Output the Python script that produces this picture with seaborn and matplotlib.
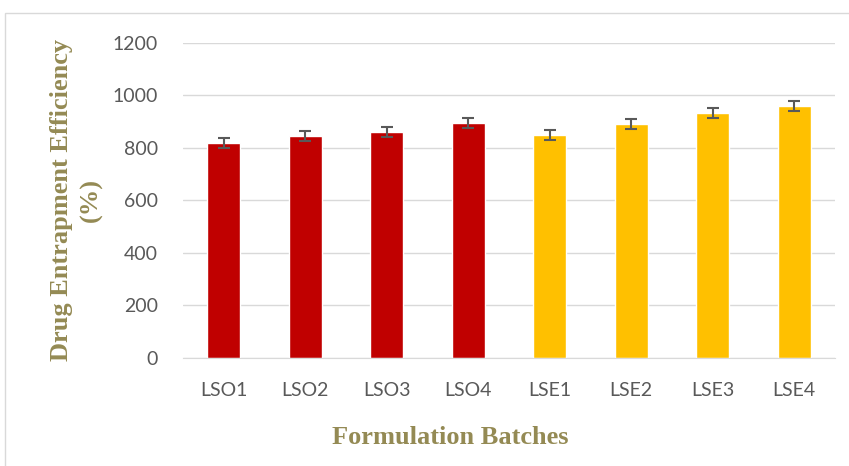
import pandas as pd
import seaborn as sns
import matplotlib.pyplot as plt
from matplotlib.patches import Rectangle

# data
batches = ['LSO1', 'LSO2', 'LSO3', 'LSO4', 'LSE1', 'LSE2', 'LSE3', 'LSE4']
efficiency = [819, 846, 861, 895, 850, 891, 933, 960]
errors = [18, 18, 18, 18, 18, 18, 18, 18]
groups = ['LSO', 'LSO', 'LSO', 'LSO', 'LSE', 'LSE', 'LSE', 'LSE']

df = pd.DataFrame({'Batch': batches, 'Efficiency': efficiency, 'Group': groups})

sns.set_style('white')
fig = plt.figure(figsize=(8.49, 4.66), dpi=100)
ax = fig.add_axes([0.2155, 0.2318, 0.768, 0.676])

sns.barplot(x='Batch', y='Efficiency', hue='Group', data=df, dodge=False,
            palette={'LSO': '#C00000', 'LSE': '#FFC000'}, width=0.4,
            saturation=1, legend=False, ax=ax)
ax.errorbar(range(len(batches)), efficiency, yerr=errors, fmt='none',
            ecolor='#595959', elinewidth=1.5, capsize=4.5, capthick=1.5)

ax.set_ylim(0, 1200)
ax.set_xlim(-0.5, 7.5)
ax.set_yticks(range(0, 1201, 200))
ax.grid(axis='y', color='#d9d9d9', linewidth=1)
ax.set_axisbelow(True)
for s in ['top', 'right', 'left']:
    ax.spines[s].set_visible(False)
ax.spines['bottom'].set_color('#d9d9d9')
ax.tick_params(axis='both', length=0, labelsize=14, labelcolor='#595959')
ax.tick_params(axis='y', pad=18)
ax.tick_params(axis='x', pad=17)
for lbl in ax.get_xticklabels() + ax.get_yticklabels():
    lbl.set_family('Lato')

ax.set_xlabel('')
ax.set_ylabel('')
olive = '#948A54'
fig.text(0.53, 0.062, 'Formulation Batches', ha='center', va='center',
         family='Liberation Serif', fontweight='bold', fontsize=19, color=olive)
fig.text(0.09, 0.57, 'Drug Entrapment Efficiency\n(%)', ha='center', va='center',
         rotation=90, family='Liberation Serif', fontweight='bold', fontsize=19,
         color=olive, linespacing=1.4)

# outer chart frame
fig.patches.append(Rectangle((5 / 849, -0.05), 1.2, (466 - 13) / 466 + 0.05,
                             transform=fig.transFigure, fill=False,
                             edgecolor='#d9d9d9', linewidth=1))

fig.savefig('out.png', dpi=100)
